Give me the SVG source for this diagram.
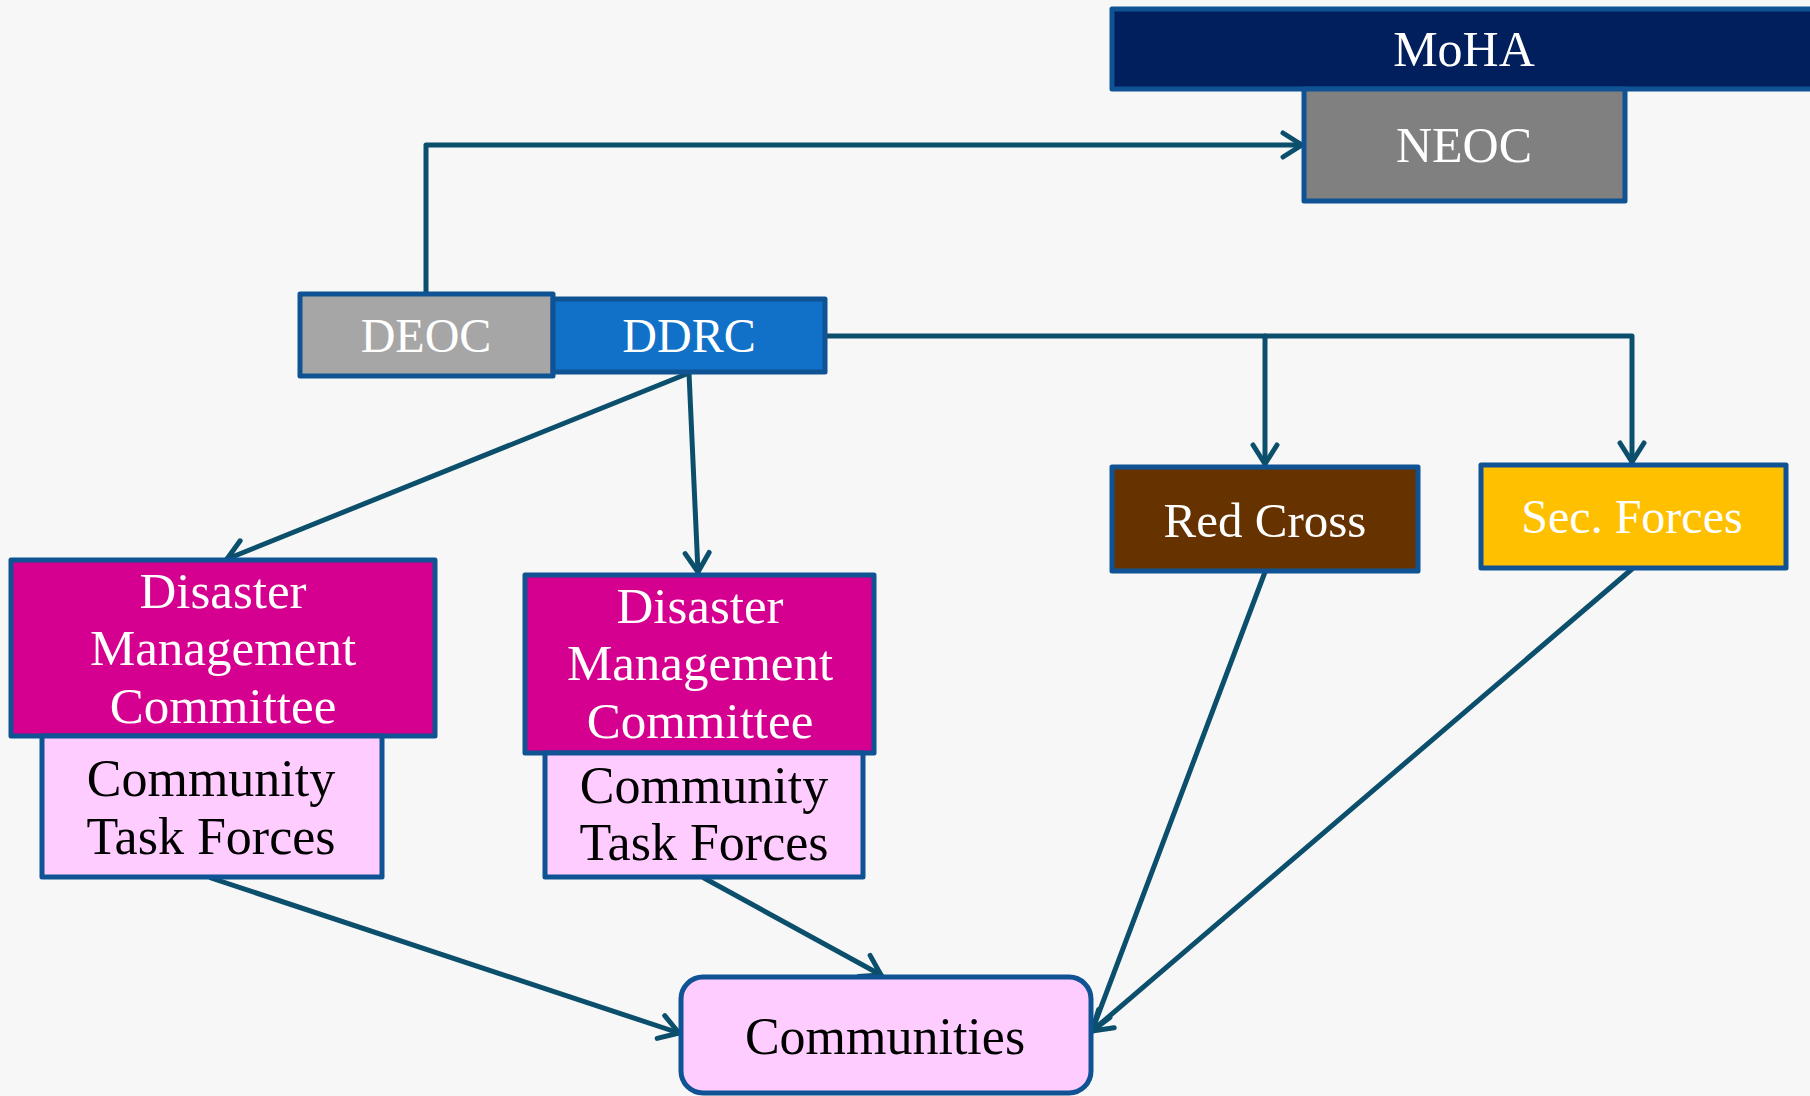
<svg xmlns="http://www.w3.org/2000/svg" width="1810" height="1096" viewBox="0 0 1810 1096">
<style>
.box{stroke:#0F5394;stroke-width:5;stroke-linejoin:round}
.t{font-family:"Liberation Serif","Times New Roman",serif;text-anchor:middle}
.w{fill:#ffffff}
.k{fill:#000000}
.c{fill:none;stroke:#0B4F6C;stroke-width:5;stroke-linecap:round;stroke-linejoin:round}
</style>
<defs>
<marker id="ah" markerUnits="userSpaceOnUse" markerWidth="26" markerHeight="30" viewBox="0 0 26 30" refX="22" refY="15" orient="auto">
<path d="M3,3 L22,15 L3,27" fill="none" stroke="#0B4F6C" stroke-width="5" stroke-linecap="round" stroke-linejoin="round"/>
</marker>
</defs>
<rect x="0" y="0" width="1810" height="1096" fill="#F7F7F7"/>
<g id="connectors">
<path class="c" d="M426,294 L426,145 L1302,145" marker-end="url(#ah)"/>
<path class="c" d="M825,336 L1632,336 L1632,462" marker-end="url(#ah)"/>
<path class="c" d="M1265,336 L1265,464" marker-end="url(#ah)"/>
<path class="c" d="M689,373 L227,559" marker-end="url(#ah)"/>
<path class="c" d="M689,373 L698,572" marker-end="url(#ah)"/>
<path class="c" d="M211,878 L679,1033" marker-end="url(#ah)"/>
<path class="c" d="M704,878 L881,975" marker-end="url(#ah)"/>
<path class="c" d="M1265,572 L1092,1031" marker-end="url(#ah)"/>
<path class="c" d="M1632,569 L1092,1031" marker-end="url(#ah)"/>
</g>
<g id="moha">
<rect class="box" x="1112" y="9" width="702" height="80" fill="#001F5C"/>
<text class="t w" x="1464" y="66" font-size="50">MoHA</text>
</g>
<g id="neoc">
<rect class="box" x="1304" y="89" width="321" height="112" fill="#808080"/>
<text class="t w" x="1464" y="162" font-size="50">NEOC</text>
</g>
<g id="deoc">
<rect class="box" x="300" y="294" width="253" height="82" fill="#A6A6A6"/>
<text class="t w" x="426" y="352" font-size="48">DEOC</text>
</g>
<g id="ddrc">
<rect class="box" x="553" y="299" width="272" height="73" fill="#1170C8"/>
<text class="t w" x="689" y="352" font-size="48">DDRC</text>
</g>
<g id="redcross">
<rect class="box" x="1112" y="467" width="306" height="104" fill="#663300"/>
<text class="t w" x="1265" y="537" font-size="49">Red Cross</text>
</g>
<g id="secforces">
<rect class="box" x="1481" y="465" width="305" height="103" fill="#FFC000"/>
<text class="t w" x="1632" y="533" font-size="48">Sec. Forces</text>
</g>
<g id="dmc1">
<rect class="box" x="11" y="560" width="424" height="176" fill="#D5008F"/>
<text class="t w" x="223" y="608" font-size="51">Disaster</text>
<text class="t w" x="223" y="665" font-size="51">Management</text>
<text class="t w" x="223" y="723" font-size="51">Committee</text>
</g>
<g id="ctf1">
<rect class="box" x="42" y="736" width="340" height="141" fill="#FFCCFF"/>
<text class="t k" x="211" y="796" font-size="52">Community</text>
<text class="t k" x="211" y="854" font-size="52">Task Forces</text>
</g>
<g id="dmc2">
<rect class="box" x="525" y="575" width="349" height="178" fill="#D5008F"/>
<text class="t w" x="700" y="623" font-size="51">Disaster</text>
<text class="t w" x="700" y="680" font-size="51">Management</text>
<text class="t w" x="700" y="738" font-size="51">Committee</text>
</g>
<g id="ctf2">
<rect class="box" x="545" y="753" width="318" height="124" fill="#FFCCFF"/>
<text class="t k" x="704" y="803" font-size="52">Community</text>
<text class="t k" x="704" y="860" font-size="52">Task Forces</text>
</g>
<g id="communities">
<rect class="box" x="681" y="977" width="410" height="116" rx="22" fill="#FFCCFF"/>
<text class="t k" x="885" y="1054" font-size="52">Communities</text>
</g>
</svg>
